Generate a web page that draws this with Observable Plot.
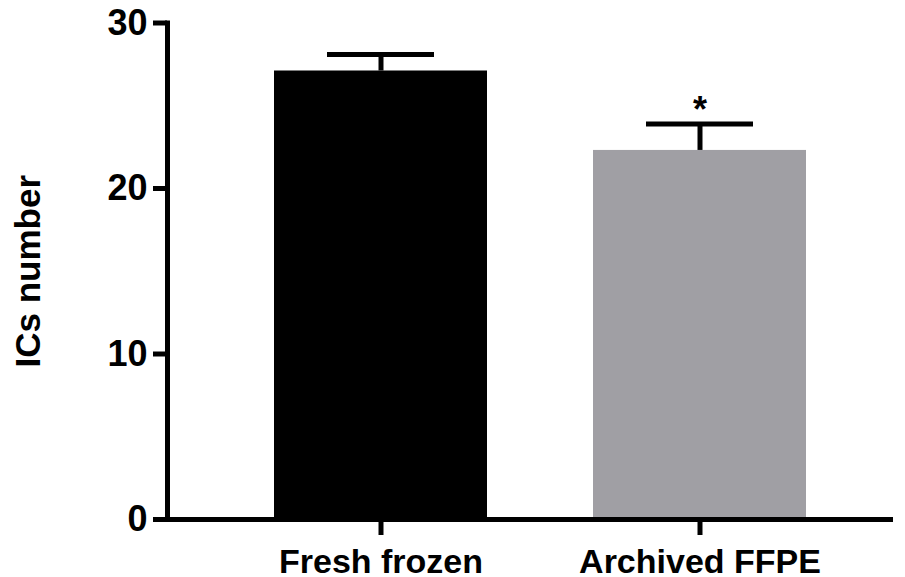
<!DOCTYPE html>
<html>
<head>
<meta charset="utf-8">
<script src="https://cdn.jsdelivr.net/npm/d3@7"></script>
<script src="https://cdn.jsdelivr.net/npm/@observablehq/plot@0.6"></script>
<style>
  html, body { margin: 0; padding: 0; background: #fff; }
  #chart svg { display: block; }
</style>
</head>
<body>
<div id="chart"></div>
<script>
// Intercellular contacts (ICs) per sample type: mean with upper SEM bar
const groups = ["Fresh frozen", "Archived FFPE"];
const means = [27.1, 22.3];
const errors = [1.0, 1.6];
const significance = ["", "*"];
const barColors = ["#000000", "#a09fa4"];
const yTicks = [0, 10, 20, 30];

const rows = groups.map((g, i) => ({
  group: g,
  mean: means[i],
  upper: means[i] + errors[i],
  star: significance[i],
  color: barColors[i]
}));

const font = "'Liberation Sans', Arial, sans-serif";

const chart = Plot.plot({
  width: 905,
  height: 577,
  marginTop: 22.5,
  marginBottom: 58,
  marginLeft: 167,
  marginRight: 12,
  style: { fontFamily: font, background: "#fff", color: "#000" },
  x: { domain: groups, range: [167.6, 911.6], padding: 0.332, label: null },
  y: { domain: [0, 30], label: null },
  marks: [
    Plot.barY(rows, { x: "group", y: "mean", fill: "color" }),
    Plot.ruleX(rows, { x: "group", y1: "mean", y2: "upper", stroke: "#000", strokeWidth: 5 }),
    Plot.tickY(rows, { x: "group", y: "upper", stroke: "#000", strokeWidth: 5, insetLeft: 53, insetRight: 53 }),
    Plot.text(rows, {
      x: "group", y: "upper", text: "star", lineAnchor: "bottom", dy: -1.5,
      fontSize: 36, fontWeight: "bold", fill: "#000"
    }),
    // Axis lines
    Plot.frame({ anchor: "left", stroke: "#000", strokeWidth: 5, strokeLinecap: "square" }),
    Plot.ruleY([0], { stroke: "#000", strokeWidth: 5 }),
    Plot.axisY({
      ticks: yTicks, tickFormat: d => String(d), tickSize: 14, tickPadding: 6,
      strokeWidth: 5, fontSize: 36, fontWeight: "bold", label: null
    }),
    Plot.axisX({
      tickSize: 16, tickPadding: 13, strokeWidth: 5,
      fontSize: 34, fontWeight: "bold", label: null
    }),
    Plot.text(["ICs number"], {
      frameAnchor: "left", textAnchor: "middle", rotate: -90, dx: -128, lineAnchor: "bottom",
      fontSize: 35, fontWeight: "bold", fill: "#000"
    })
  ]
});

document.getElementById("chart").appendChild(chart);
</script>
</body>
</html>
